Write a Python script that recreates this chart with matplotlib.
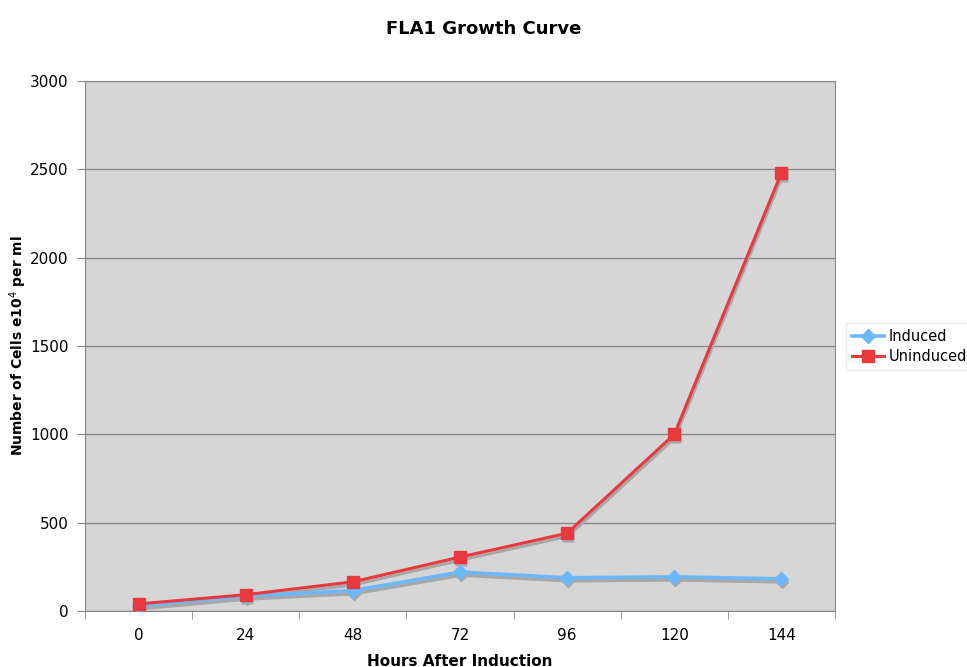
import matplotlib
matplotlib.use('Agg')
import matplotlib.pyplot as plt
from matplotlib.transforms import offset_copy
import numpy as np

hours = ['0', '24', '48', '72', '96', '120', '144']
induced = [30, 85, 115, 220, 188, 193, 182]
uninduced = [40, 92, 165, 305, 440, 1000, 2480]

plt.rcParams['font.family'] = ['DejaVu Sans']

fig = plt.figure(figsize=(9.67, 6.67), dpi=100)
ax = fig.add_axes([0.0879, 0.084, 0.7756, 0.7946])
ax.set_facecolor('#d6d6d6')

x = np.arange(len(hours))

# soft drop shadow under each series
sh = offset_copy(ax.transData, fig=fig, x=1, y=-3, units='dots')
ax.plot(x, induced, color='#a8a8a8', lw=2.6, marker='D', ms=7.5, mec='none',
        transform=sh, zorder=2)
ax.plot(x, uninduced, color='#a8a8a8', lw=2.2, marker='s', ms=8.5, mec='none',
        transform=sh, zorder=2)

ax.plot(x, induced, color='#6db8fb', lw=2.6, marker='D', ms=7.5, mec='#6db8fb',
        label='Induced', zorder=3)
ax.plot(x, uninduced, color='#e8393e', lw=2.2, marker='s', ms=8.5, mec='#e8393e',
        label='Uninduced', zorder=4)

ax.set_xlim(-0.5, len(hours) - 0.5)
ax.set_ylim(0, 3000)
ax.set_yticks(range(0, 3001, 500))
ax.yaxis.grid(True, color='#8a8a8a', lw=1)
ax.set_axisbelow(True)

ax.set_xticks(x)
ax.set_xticklabels(hours)
ax.set_xticks(np.arange(-0.5, len(hours)), minor=True)
ax.tick_params(axis='x', which='major', length=0, pad=12, labelsize=11)
ax.tick_params(axis='x', which='minor', length=6, color='#888888')
ax.tick_params(axis='y', length=6, color='#888888', labelsize=11, pad=6)

for s in ax.spines.values():
    s.set_color('#888888')

ax.set_xlabel('Hours After Induction', fontsize=11, fontweight='bold', labelpad=8)
ax.set_ylabel('Number of Cells e10$^4$ per ml', fontsize=10, fontweight='bold')
ax.yaxis.set_label_coords(-0.074, 0.5)
fig.suptitle('FLA1 Growth Curve', fontsize=13, fontweight='bold', y=0.97)

leg = fig.legend(loc='center left', bbox_to_anchor=(0.875, 0.481), fontsize=10.5,
                 frameon=True, fancybox=False, edgecolor='#e6e6e6', handlelength=2.2,
                 borderpad=0.4, labelspacing=0.35, handletextpad=0.3, borderaxespad=0)

fig.savefig('out.png', dpi=100)
